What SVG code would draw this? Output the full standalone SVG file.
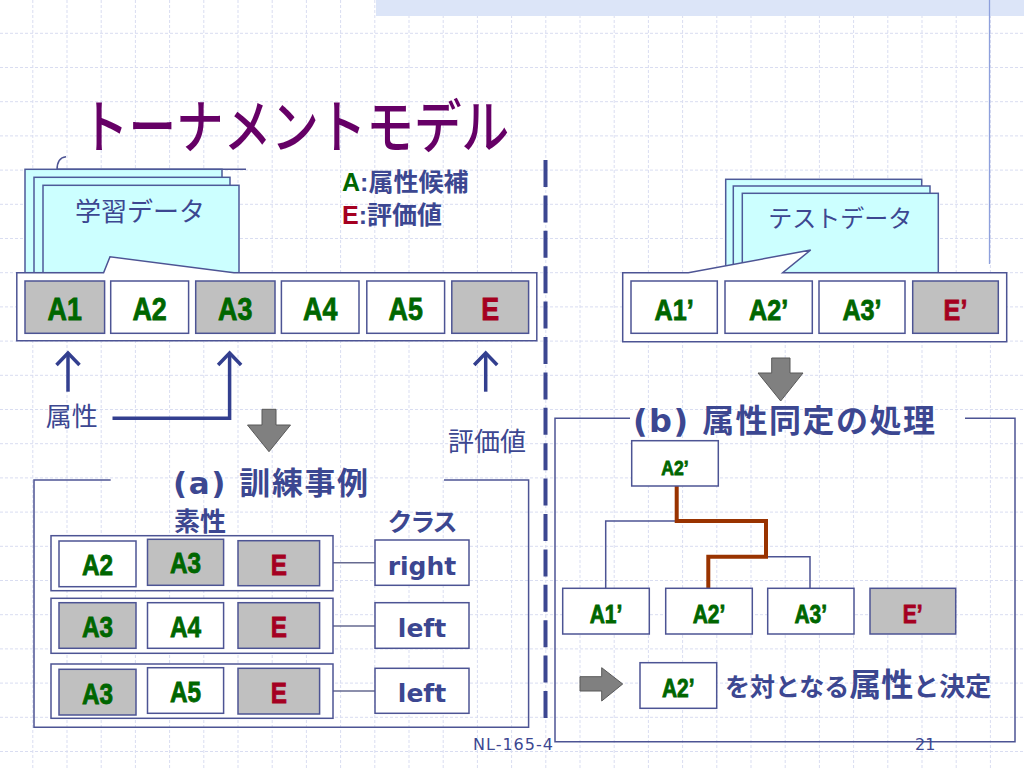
<svg xmlns="http://www.w3.org/2000/svg" width="1024" height="768" viewBox="0 0 1024 768">
<defs>
<style>
.grid{stroke:#d9ddf1;stroke-width:1;stroke-dasharray:3 2;fill:none}
.cell{fill:#fff;stroke:#4d5494;stroke-width:1.5}
.cellg{fill:#c0c0c0;stroke:#4d5494;stroke-width:1.5}
.frame{fill:none;stroke:#4d5494;stroke-width:1.5}
.page{fill:#ccffff;stroke:#4d5a99;stroke-width:1.5}
.lbl{font-family:"Liberation Sans Narrow","Liberation Sans",Arial,sans-serif;font-weight:bold;text-anchor:middle;transform-box:fill-box;transform-origin:center;transform:scaleX(0.84);stroke-width:0.8}
.g{fill:#006600;stroke:#006600}
.r{fill:#a50021;stroke:#a50021}
.jp{font-family:"Noto Sans CJK JP",sans-serif;fill:#3c4791}
.hd{font-family:"DejaVu Sans","Noto Sans CJK JP",sans-serif;font-weight:bold;fill:#3c4791}
.cls{font-family:"DejaVu Sans",sans-serif;font-weight:bold;fill:#3c4791;font-size:25px;text-anchor:middle}
.navy{stroke:#333f8f;stroke-width:3.5;fill:none}
.blk{fill:#808080;stroke:#595959;stroke-width:1}
.thin{stroke:#4d5494;stroke-width:1.5;fill:none}
.con{stroke:#666a90;stroke-width:1.5;fill:none}
</style>
<marker id="vhead" markerUnits="userSpaceOnUse" markerWidth="30" markerHeight="30" viewBox="-15 -15 30 30" refX="0" refY="0" orient="auto">
<path d="M-12,-11.5 L0,0 L-12,11.5" fill="none" stroke="#333f8f" stroke-width="3.5"/>
</marker>
</defs>
<rect width="1024" height="768" fill="#ffffff"/>
<path class="grid" d="M32.8,0V768M67,0V768M101.2,0V768M135.4,0V768M169.6,0V768M203.8,0V768M238,0V768M272.2,0V768M306.4,0V768M340.6,0V768M374.8,0V768M409,0V768M443.2,0V768M477.4,0V768M511.6,0V768M545.8,0V768M580,0V768M614.2,0V768M648.4,0V768M682.6,0V768M716.8,0V768M751,0V768M785.2,0V768M819.4,0V768M853.6,0V768M887.8,0V768M922,0V768M956.2,0V768M990.4,0V768M0,33.3H1024M0,67.5H1024M0,101.7H1024M0,135.9H1024M0,170.1H1024M0,204.3H1024M0,238.5H1024M0,272.7H1024M0,306.9H1024M0,341.1H1024M0,375.3H1024M0,409.5H1024M0,443.7H1024M0,477.9H1024M0,512.1H1024M0,546.3H1024M0,580.5H1024M0,614.7H1024M0,648.9H1024M0,683.1H1024M0,717.3H1024M0,751.5H1024"/>
<rect x="376" y="0" width="648" height="16" fill="#dce5f8"/>
<line x1="989.5" y1="0" x2="989.5" y2="264" stroke="#8ea0dc" stroke-width="1.3"/>

<text x="81" y="148" font-family="Noto Sans CJK JP,sans-serif" font-size="58" font-weight="500" fill="#660066" textLength="428" lengthAdjust="spacingAndGlyphs">トーナメントモデル</text>

<!-- training data pages -->
<g id="train-data">
<path d="M57,170 Q57,157.5 66,156.7" class="thin"/>
<line x1="57" y1="169.3" x2="246" y2="169.3" class="thin"/>
<rect class="page" x="25" y="169.3" width="197" height="103.4"/>
<rect class="page" x="34" y="177.3" width="196" height="95.4"/>
<rect class="page" x="43" y="185.3" width="196" height="87.4"/>
<text class="jp" x="75" y="221" font-size="26">学習データ</text>
</g>

<g id="legend">
<text x="342" y="191" font-size="25" font-weight="bold" class="jp"><tspan font-family="Liberation Sans,sans-serif" fill="#006600">A</tspan><tspan font-family="Liberation Sans,sans-serif">:</tspan>属性候補</text>
<text x="342" y="224" font-size="25" font-weight="bold" class="jp"><tspan font-family="Liberation Sans,sans-serif" fill="#a50021">E</tspan><tspan font-family="Liberation Sans,sans-serif">:</tspan>評価値</text>
</g>

<g id="train-row">
<path class="frame" style="fill:#fff" d="M16.8,272.7H103.6L110,256.7L234,272.7H536.8V340.7H16.8Z"/>
<rect class="cellg" x="25" y="281" width="79.6" height="52.3"/>
<rect class="cell" x="110.7" y="281" width="77.9" height="52.3"/>
<rect class="cellg" x="195.7" y="281" width="79.3" height="52.3"/>
<rect class="cell" x="281.4" y="281" width="77.6" height="52.3"/>
<rect class="cell" x="366.8" y="281" width="77.8" height="52.3"/>
<rect class="cellg" x="451.8" y="281" width="76.8" height="52.3"/>
<g font-size="32">
<text class="lbl g" x="64.8" y="320">A1</text>
<text class="lbl g" x="149.6" y="320">A2</text>
<text class="lbl g" x="235.3" y="320">A3</text>
<text class="lbl g" x="320.2" y="320">A4</text>
<text class="lbl g" x="405.7" y="320">A5</text>
<text class="lbl r" x="490.2" y="320">E</text>
</g>
</g>

<!-- test data -->
<g id="test-data">
<rect class="page" x="725.7" y="179.3" width="196" height="93.4"/>
<rect class="page" x="733.3" y="186" width="196.7" height="86.7"/>
<rect class="page" x="742.3" y="193.3" width="196" height="79.4"/>
<text class="jp" x="768.3" y="227" font-size="24">テストデータ</text>
</g>
<g id="test-row">
<path class="frame" style="fill:#fff" d="M622.7,272.7H688.3L810.7,250L782.7,272.7H1006.7V341.7H622.7Z"/>
<rect class="cell" x="631" y="281" width="86.3" height="52.3"/>
<rect class="cell" x="725" y="281" width="87.3" height="52.3"/>
<rect class="cell" x="819" y="281" width="86" height="52.3"/>
<rect class="cellg" x="912.7" y="281" width="85.6" height="52.3"/>
<g font-size="30">
<text class="lbl g" x="674.2" y="320">A1’</text>
<text class="lbl g" x="768.7" y="320">A2’</text>
<text class="lbl g" x="862" y="320">A3’</text>
<text class="lbl r" x="955.5" y="320">E’</text>
</g>
</g>

<!-- divider -->
<line x1="545.5" y1="160" x2="545.5" y2="723" stroke="#3c4791" stroke-width="4" stroke-dasharray="27 8.4"/>

<g id="connectors">
<line class="navy" x1="68" y1="391.7" x2="68" y2="353" marker-end="url(#vhead)"/>
<polyline class="navy" points="112.5,418.3 229.6,418.3 229.6,353" marker-end="url(#vhead)"/>
<line class="navy" x1="485.7" y1="391.7" x2="485.7" y2="353" marker-end="url(#vhead)"/>
<path class="blk" d="M262,409.3H276V425H290.5L269,451.7L247.5,425H262Z"/>
<path class="blk" d="M771.7,358H790V373H803L780.7,401L758,373H771.7Z"/>
<path class="blk" d="M580,676.7H601.7V667.7L622.7,684L601.7,701V691H580Z"/>
<line class="con" x1="333" y1="562.7" x2="375" y2="562.7"/>
<line class="con" x1="333" y1="626" x2="375" y2="626"/>
<line class="con" x1="333" y1="691" x2="375" y2="691"/>
<path class="thin" d="M605.7,588.3V521H676.7M708.3,556.7H810V588.3"/>
<path d="M676.7,486V521H766V556.7H708.3V588.3" fill="none" stroke="#993300" stroke-width="4"/>
</g>

<text class="jp" x="45.7" y="426" font-size="26">属性</text>
<text class="jp" x="448" y="451" font-size="26">評価値</text>

<!-- (a) section -->
<g id="section-a">
<path class="frame" d="M110.7,480H34V727.3H528.6V480H444"/>
<text class="hd" x="173" y="494" font-size="31" textLength="195">(a) 訓練事例</text>
<text class="jp" x="174" y="531" font-size="26" font-weight="bold">素性</text>
<text class="jp" x="387.5" y="531" font-size="25" font-weight="bold" textLength="70">クラス</text>
</g>

<g id="example-1">
<rect class="cell" x="51" y="535.7" width="282" height="55"/>
<rect class="cell" x="59" y="541" width="77" height="45.7"/>
<rect class="cellg" x="147.5" y="539.3" width="76.1" height="46"/>
<rect class="cellg" x="238" y="540.7" width="81.6" height="45"/>
<g font-size="29">
<text class="lbl g" x="97.5" y="575">A2</text>
<text class="lbl g" x="185.5" y="573.3">A3</text>
<text class="lbl r" x="278.8" y="575">E</text>
</g>
<rect class="cell" x="375" y="540" width="94" height="45.3"/>
<text class="cls" x="422" y="575">right</text>
</g>

<g id="example-2">
<rect class="cell" x="51" y="598.3" width="282" height="55"/>
<rect class="cellg" x="59" y="602.7" width="77" height="45.6"/>
<rect class="cell" x="147.5" y="602.7" width="76.1" height="45.6"/>
<rect class="cellg" x="238" y="602.7" width="81.6" height="45.6"/>
<g font-size="29">
<text class="lbl g" x="97.5" y="637.3">A3</text>
<text class="lbl g" x="185.5" y="637.3">A4</text>
<text class="lbl r" x="278.8" y="637.3">E</text>
</g>
<rect class="cell" x="375" y="602.7" width="94" height="45.6"/>
<text class="cls" x="422" y="636.7">left</text>
</g>

<g id="example-3">
<rect class="cell" x="51" y="664" width="282" height="54.3"/>
<rect class="cellg" x="59" y="669.3" width="77" height="45.7"/>
<rect class="cell" x="147.5" y="667.7" width="76.1" height="45.6"/>
<rect class="cellg" x="238" y="668.3" width="81.6" height="45.7"/>
<g font-size="29">
<text class="lbl g" x="97.5" y="704">A3</text>
<text class="lbl g" x="185.5" y="701.7">A5</text>
<text class="lbl r" x="278.8" y="702.7">E</text>
</g>
<rect class="cell" x="375" y="668.3" width="94" height="45"/>
<text class="cls" x="422" y="701.7">left</text>
</g>

<!-- (b) section -->
<g id="section-b">
<path class="frame" d="M630,418.3H555V741.7H1015V418.3H965"/>
<text class="hd" x="633" y="432" font-size="32" textLength="302">(b) 属性同定の処理</text>
</g>

<g id="tree-root">
<rect class="cell" x="631.7" y="440.7" width="86.6" height="45.3"/>
<text class="lbl g" x="675" y="475" font-size="21">A2’</text>
</g>
<g id="leaf-a1">
<rect class="cell" x="562.7" y="588.3" width="86.6" height="45.7"/>
<text class="lbl g" x="606" y="622.7" font-size="25">A1’</text>
</g>
<g id="leaf-a2">
<rect class="cell" x="665.7" y="588.3" width="86.6" height="45.7"/>
<text class="lbl g" x="709" y="622.7" font-size="25">A2’</text>
</g>
<g id="leaf-a3">
<rect class="cell" x="767.7" y="588.3" width="86.3" height="45.7"/>
<text class="lbl g" x="810.8" y="622.7" font-size="25">A3’</text>
</g>
<g id="leaf-e">
<rect class="cellg" x="870" y="588.3" width="85.7" height="45.7"/>
<text class="lbl r" x="912.8" y="622.7" font-size="25">E’</text>
</g>

<g id="result">
<rect class="cell" x="640" y="662.7" width="76.7" height="45.6"/>
<text class="lbl g" x="678.3" y="696.7" font-size="25">A2’</text>
<text class="jp" x="725" y="696" font-weight="bold"><tspan font-size="25">を対となる</tspan><tspan font-size="32">属性</tspan><tspan font-size="26">と決定</tspan></text>
</g>

<g id="footer">
<text x="473" y="750" font-family="DejaVu Sans,sans-serif" font-size="16" fill="#3c4791" textLength="80">NL-165-4</text>
<text x="915" y="750" font-family="DejaVu Sans,sans-serif" font-size="16" fill="#3c4791">21</text>
</g>
</svg>
